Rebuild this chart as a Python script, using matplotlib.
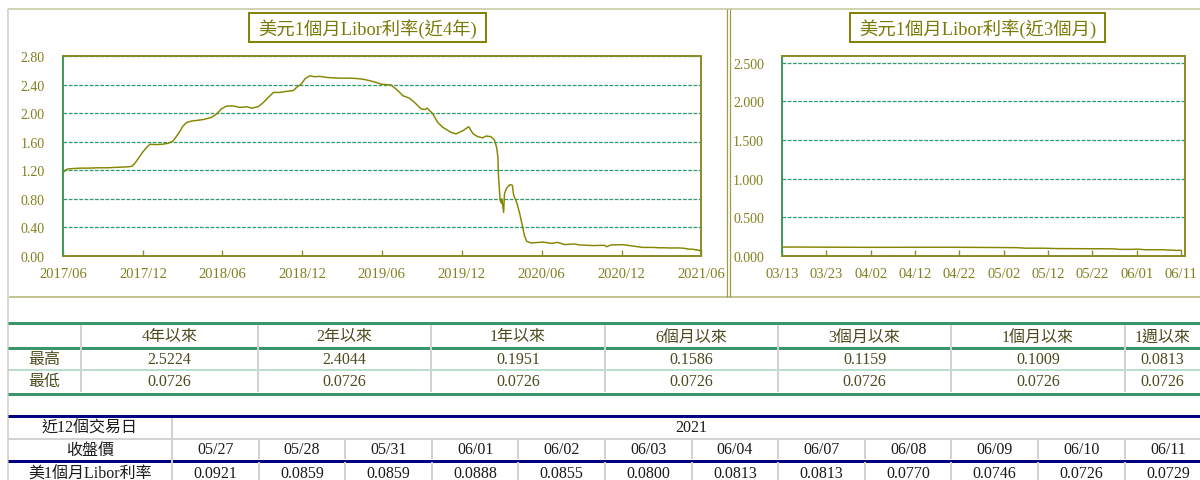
import matplotlib
matplotlib.use("Agg")
import matplotlib.pyplot as plt
import matplotlib.dates as mdates
from matplotlib.patches import Rectangle
from matplotlib.ticker import FixedLocator, FormatStrFormatter
import pandas as pd

plt.rcParams['font.family'] = ['Liberation Serif', 'Noto Sans CJK TC']

W, H = 1200, 481

# ---- data -------------------------------------------------------------
# 1-month USD LIBOR (%), sampled over the last four years
rate_dates = [
    "2017-06-12", "2017-06-16", "2017-06-23", "2017-07-05", "2017-07-20",
    "2017-08-10", "2017-08-30", "2017-09-20", "2017-10-10", "2017-10-25",
    "2017-11-10", "2017-11-17", "2017-11-24", "2017-12-01", "2017-12-10",
    "2017-12-18", "2017-12-27", "2018-01-10", "2018-01-25", "2018-02-08",
    "2018-02-18", "2018-03-02", "2018-03-13", "2018-03-21", "2018-04-02",
    "2018-04-15", "2018-04-28", "2018-05-17", "2018-05-29", "2018-06-09",
    "2018-06-21", "2018-07-06", "2018-07-21", "2018-08-06", "2018-08-17",
    "2018-09-01", "2018-09-13", "2018-09-24", "2018-10-06", "2018-10-21",
    "2018-11-05", "2018-11-20", "2018-11-28", "2018-12-09", "2018-12-17",
    "2018-12-28", "2019-01-08", "2019-01-20", "2019-02-05", "2019-02-16",
    "2019-03-07", "2019-03-30", "2019-04-14", "2019-04-29", "2019-05-14",
    "2019-05-29", "2019-06-11", "2019-06-20", "2019-07-02", "2019-07-18",
    "2019-07-29", "2019-08-13", "2019-08-25", "2019-09-09", "2019-09-17",
    "2019-09-23", "2019-10-06", "2019-10-17", "2019-10-29", "2019-11-17",
    "2019-11-28", "2019-12-14", "2019-12-27", "2020-01-06", "2020-01-17",
    "2020-01-28", "2020-02-05", "2020-02-16", "2020-02-24", "2020-02-29",
    "2020-03-03", "2020-03-04", "2020-03-06", "2020-03-08", "2020-03-11",
    "2020-03-12", "2020-03-14", "2020-03-16", "2020-03-18", "2020-03-22",
    "2020-03-27", "2020-03-31", "2020-04-05", "2020-04-08", "2020-04-15",
    "2020-04-22", "2020-04-28", "2020-05-03", "2020-05-08", "2020-05-18",
    "2020-06-14", "2020-07-03", "2020-07-18", "2020-08-03", "2020-08-25",
    "2020-09-06", "2020-10-06", "2020-11-02", "2020-11-07", "2020-11-17",
    "2020-12-14", "2021-01-06", "2021-01-29", "2021-02-21", "2021-03-12",
    "2021-03-15", "2021-04-01", "2021-04-20", "2021-05-05", "2021-05-07",
    "2021-05-11", "2021-05-14", "2021-05-21", "2021-05-26",
]
rate_values = [
    1.17, 1.20, 1.22, 1.225, 1.23,
    1.23, 1.235, 1.235, 1.24, 1.245,
    1.25, 1.26, 1.31, 1.37, 1.45,
    1.51, 1.565, 1.56, 1.565, 1.58,
    1.61, 1.71, 1.82, 1.87, 1.89,
    1.90, 1.91, 1.94, 1.99, 2.06,
    2.10, 2.10, 2.08, 2.09, 2.07,
    2.09, 2.15, 2.22, 2.29, 2.29,
    2.305, 2.315, 2.36, 2.41, 2.48,
    2.5224, 2.51, 2.515, 2.50, 2.495,
    2.49, 2.49, 2.485, 2.475, 2.455,
    2.43, 2.4044, 2.40, 2.395, 2.315,
    2.245, 2.21, 2.15, 2.06, 2.05,
    2.07, 1.99, 1.87, 1.80, 1.73,
    1.71, 1.755, 1.81, 1.71, 1.67,
    1.655, 1.68, 1.67, 1.625, 1.52,
    1.38, 1.15, 0.96, 0.78, 0.74,
    0.80, 0.70, 0.61, 0.87, 0.94,
    0.98, 1.00, 0.99, 0.85, 0.75,
    0.59, 0.42, 0.28, 0.205, 0.182,
    0.1951, 0.177, 0.19, 0.16, 0.168,
    0.155, 0.146, 0.15, 0.13, 0.155,
    0.1586, 0.14, 0.12, 0.12, 0.1140,
    0.1159, 0.1120, 0.1130, 0.1080, 0.1009,
    0.1009, 0.0960, 0.0950, 0.0930,
]

# closing rates of the last 12 trading days (2021)
recent_days = ["05/27", "05/28", "05/31", "06/01", "06/02", "06/03",
               "06/04", "06/07", "06/08", "06/09", "06/10", "06/11"]
recent_close = [0.0921, 0.0859, 0.0859, 0.0888, 0.0855, 0.0800,
                0.0813, 0.0813, 0.0770, 0.0746, 0.0726, 0.0729]

# high / low over each look-back window
periods = ["4年以來", "2年以來", "1年以來", "6個月以來", "3個月以來", "1個月以來", "1週以來"]
period_high = ["2.5224", "2.4044", "0.1951", "0.1586", "0.1159", "0.1009", "0.0813"]
period_low = ["0.0726", "0.0726", "0.0726", "0.0726", "0.0726", "0.0726", "0.0726"]

long_ticks = ["2017/06", "2017/12", "2018/06", "2018/12", "2019/06",
              "2019/12", "2020/06", "2020/12", "2021/06"]
short_ticks = ["03/13", "03/23", "04/02", "04/12", "04/22",
               "05/02", "05/12", "05/22", "06/01", "06/11"]

series = pd.Series(
    rate_values + recent_close,
    index=pd.to_datetime(rate_dates + ["2021-" + d.replace("/", "-") for d in recent_days]),
)

# ---- styling ----------------------------------------------------------
OLIVE_TXT = "#80801e"
OLIVE_LINE = "#858500"
OLIVE_SPINE = "#8b8b2a"
GREEN_SPINE = "#3a9a5a"
GRID = "#2f9a6c"
PT = 0.72  # points per pixel at 100 dpi

fig = plt.figure(figsize=(W / 100, H / 100), dpi=100)

bg = fig.add_axes([0, 0, 1, 1], zorder=0)
bg.set_xlim(0, W)
bg.set_ylim(H, 0)
bg.axis("off")


def px_axes(x0, y0, x1, y1):
    return fig.add_axes([x0 / W, 1 - y1 / H, (x1 - x0) / W, (y1 - y0) / H], zorder=2)


def hline(y, x0, x1, color, px):
    bg.plot([x0, x1], [y, y], color=color, lw=px * PT, solid_capstyle="butt")


def vline(x, y0, y1, color, px):
    bg.plot([x, x], [y0, y1], color=color, lw=px * PT, solid_capstyle="butt")


def style_chart(ax, yticks, yfmt, ytop, xticks, xlabels, xlim):
    ax.plot(series.index, series.values, color=OLIVE_LINE, lw=1.05, zorder=3)
    ax.set_xlim(*xlim)
    ax.set_ylim(0, ytop)
    ax.yaxis.set_major_locator(FixedLocator(yticks))
    ax.yaxis.set_major_formatter(FormatStrFormatter(yfmt))
    ax.set_xticks(mdates.date2num(xticks))
    ax.set_xticklabels(xlabels)
    ax.grid(axis="y", color=GRID, lw=0.9, linestyle=(0, (3, 1.2)))
    ax.set_axisbelow(True)
    ax.tick_params(axis="y", length=0, pad=13, labelsize=10, labelcolor=OLIVE_TXT)
    ax.tick_params(axis="x", direction="in", length=4, width=1, color=OLIVE_SPINE,
                   pad=8, labelsize=10.5, labelcolor=OLIVE_TXT)
    ax.spines["left"].set_color(GREEN_SPINE)
    for side in ("top", "right", "bottom"):
        ax.spines[side].set_color(OLIVE_SPINE)
    for side in ax.spines:
        ax.spines[side].set_linewidth(1.4)


# four-year chart
ax1 = px_axes(63, 57, 701, 257)
long_pos = [pd.Timestamp("2017-06-11") + pd.DateOffset(months=6 * i) for i in range(len(long_ticks))]
style_chart(ax1, [0.4 * i for i in range(8)], "%.2f", 2.80, long_pos, long_ticks,
            (pd.Timestamp("2017-06-11"), pd.Timestamp("2021-06-11")))

# three-month chart
ax2 = px_axes(782, 57, 1185, 257)
short_pos = pd.date_range("2021-03-13", periods=len(short_ticks), freq="10D")
style_chart(ax2, [0.5 * i for i in range(6)], "%.3f", 2.585, list(short_pos), short_ticks,
            (pd.Timestamp("2021-03-13"), pd.Timestamp("2021-06-11") + pd.Timedelta(days=0.9)))

# chart titles in framed boxes
for (x0, x1), title in [((249, 486), "美元1個月Libor利率(近4年)"),
                        ((850, 1105), "美元1個月Libor利率(近3個月)")]:
    bg.add_patch(Rectangle((x0, 14), x1 - x0, 29, fill=False, ec="#808000", lw=1.4))
    bg.text((x0 + x1) / 2, 29, title, ha="center", va="center",
            fontsize=13.2, color="#7a7a08")

# page heading (runs off the top edge)
bg.text(150, 4.0, "美元1個月Libor利率走勢", ha="left", va="bottom",
        fontsize=22, color="#111111")

# panel frames
hline(10, 8, W, "#d2d2b4", 2)
hline(297.5, 8, W, "#c4c494", 2)
vline(8, 10, H, "#d8d8d0", 2)
vline(726.8, 10, 298, "#9c9c40", 1.2)
vline(729.8, 10, 298, "#9c9c40", 1.2)

# high / low table
T1 = "#4a4a1e"
col_edges = [81, 258, 431, 605, 778, 951, 1125, 1200]
hline(324, 8, W, "#3b956a", 3)
hline(349, 8, W, "#3b956a", 3)
hline(371, 8, W, "#a2d4bc", 1.5)
hline(394.5, 8, W, "#3b956a", 3)
for x in col_edges[:-1]:
    vline(x, 325.5, 393, "#d2d2d2", 2)
bg.text(44, 360, "最高", ha="center", va="center", fontsize=11.5, color=T1)
bg.text(44, 382, "最低", ha="center", va="center", fontsize=11.5, color=T1)
for i, name in enumerate(periods):
    cx = (col_edges[i] + col_edges[i + 1]) / 2
    bg.text(cx, 337.5, name, ha="center", va="center", fontsize=11.5, color=T1)
    bg.text(cx, 360, period_high[i], ha="center", va="center", fontsize=11.5, color=T1)
    bg.text(cx, 382, period_low[i], ha="center", va="center", fontsize=11.5, color=T1)

# recent closes table
T2 = "#1a1a1a"
NAVY = "#000080"
c0, cw = 172, 86.6
hline(417, 8, W, NAVY, 3)
hline(440, 8, W, "#d2d2d2", 2)
hline(461.5, 8, W, NAVY, 3)
vline(c0, 418.5, H, "#d2d2d2", 2)
for i in range(1, len(recent_days) + 1):
    vline(c0 + i * cw, 441, 460, "#d2d2d2", 2)
    vline(c0 + i * cw, 463, H, "#d2d2d2", 2)
bg.text(90, 428.5, "近12個交易日", ha="center", va="center", fontsize=11.5, color=T2)
bg.text(c0 + 6 * cw, 428.5, "2021", ha="center", va="center", fontsize=11.5, color=T2)
bg.text(90, 450.5, "收盤價", ha="center", va="center", fontsize=11.5, color=T2)
bg.text(90, 474.5, "美1個月Libor利率", ha="center", va="center", fontsize=11.5, color=T2)
for i, (d, v) in enumerate(zip(recent_days, recent_close)):
    cx = c0 + (i + 0.5) * cw
    bg.text(cx, 450.5, d, ha="center", va="center", fontsize=11.5, color=T2)
    bg.text(cx, 474.5, f"{v:.4f}", ha="center", va="center", fontsize=11.5, color=T2)

fig.savefig("out.png", dpi=100)
